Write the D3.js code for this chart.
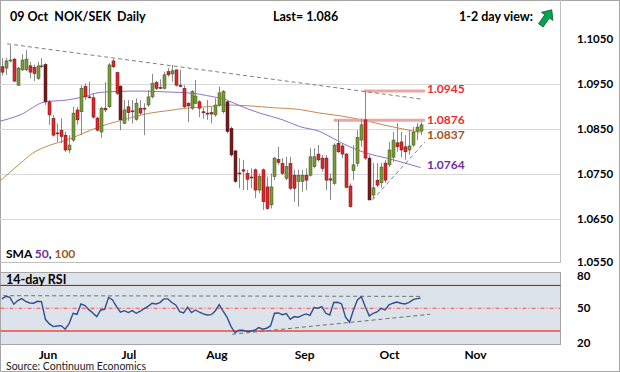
<!DOCTYPE html>
<html>
<head>
<meta charset="utf-8">
<script src="https://cdn.jsdelivr.net/npm/d3@7"></script>
<style>
  body { margin: 0; background: #fff; }
  svg { display: block; }
  text { font-family: Lato, "Open Sans", sans-serif; }
</style>
</head>
<body>
<svg id="chart"></svg>
<script>
// daily candles, mid-May .. 09 Oct
const opens = [1.0989,1.0986,1.1002,1.1006,1.0948,1.0982,1.0982,1.0991,1.0988,1.0963,1.0990,1.0994,1.0911,1.0874,1.0842,1.0848,1.0837,1.0804,1.0826,1.0893,
  1.0889,1.0945,1.0922,1.0920,1.0875,1.0844,1.0897,1.0900,1.1002,1.0976,1.0946,1.0863,1.0900,1.0891,1.0872,1.0897,1.0897,1.0904,1.0922,1.0954,
  1.0943,1.0941,1.0978,1.0973,1.0982,1.0948,1.0941,1.0908,1.0897,1.0908,1.0911,1.0889,1.0886,1.0887,1.0882,1.0904,1.0889,1.0911,1.0852,1.0802,
  1.0753,1.0760,1.0752,1.0744,1.0760,1.0715,1.0760,1.0722,1.0682,1.0745,1.0783,1.0774,1.0741,1.0774,1.0748,1.0734,1.0734,1.0748,1.0748,1.0767,
  1.0795,1.0786,1.0786,1.0740,1.0730,1.0819,1.0813,1.0795,1.0724,1.0758,1.0774,1.0826,1.0871,1.0786,1.0704,1.0737,1.0731,1.0775,1.0771,1.0788,
  1.0820,1.0822,1.0811,1.0804,1.0815,1.0846,1.0846];
const highs = [1.1008,1.1009,1.1037,1.1009,1.0989,1.1017,1.1026,1.1000,1.0994,1.1000,1.1008,1.0997,1.0915,1.0882,1.0863,1.0874,1.0845,1.0837,1.0900,1.0900,
  1.0948,1.0952,1.0956,1.0930,1.0878,1.0900,1.0955,1.0997,1.1006,1.0978,1.0948,1.0915,1.0915,1.0915,1.0919,1.0915,1.0908,1.0937,1.0973,1.0958,
  1.0961,1.0978,1.0986,1.0993,1.0983,1.0982,1.0948,1.0910,1.0937,1.0960,1.0915,1.0897,1.0915,1.0900,1.0919,1.0945,1.0937,1.0915,1.0856,1.0804,
  1.0786,1.0782,1.0760,1.0763,1.0763,1.0752,1.0763,1.0745,1.0752,1.0789,1.0811,1.0786,1.0789,1.0789,1.0760,1.0760,1.0760,1.0763,1.0808,1.0808,
  1.0815,1.0793,1.0793,1.0752,1.0819,1.0871,1.0819,1.0797,1.0730,1.0815,1.0848,1.0874,1.0935,1.0793,1.0775,1.0775,1.0775,1.0782,1.0822,1.0844,
  1.0864,1.0844,1.0837,1.0848,1.0855,1.0864,1.0866];
const lows = [1.0969,1.0971,1.0999,1.0956,1.0947,1.0980,1.0979,1.0963,1.0957,1.0960,1.0986,1.0904,1.0860,1.0834,1.0822,1.0819,1.0800,1.0797,1.0822,1.0860,
  1.0837,1.0915,1.0919,1.0874,1.0845,1.0831,1.0888,1.0897,1.0986,1.0926,1.0848,1.0862,1.0869,1.0863,1.0869,1.0882,1.0837,1.0900,1.0919,1.0937,
  1.0939,1.0939,1.0967,1.0956,1.0945,1.0943,1.0897,1.0866,1.0893,1.0906,1.0877,1.0874,1.0871,1.0863,1.0878,1.0900,1.0885,1.0841,1.0789,1.0731,
  1.0719,1.0715,1.0715,1.0719,1.0697,1.0708,1.0671,1.0671,1.0674,1.0737,1.0771,1.0748,1.0737,1.0715,1.0689,1.0678,1.0711,1.0715,1.0745,1.0763,
  1.0778,1.0756,1.0715,1.0693,1.0726,1.0797,1.0786,1.0719,1.0676,1.0737,1.0767,1.0811,1.0782,1.0692,1.0697,1.0722,1.0720,1.0731,1.0766,1.0777,
  1.0800,1.0788,1.0782,1.0793,1.0811,1.0826,1.0837];
const closes = [1.0977,1.1002,1.1004,1.0957,1.0986,1.1004,1.1006,1.0977,1.0974,1.0991,1.0991,1.0911,1.0882,1.0837,1.0840,1.0834,1.0804,1.0815,1.0886,1.0871,
  1.0941,1.0922,1.0921,1.0877,1.0848,1.0897,1.0893,1.0993,1.0989,1.0930,1.0871,1.0893,1.0887,1.0889,1.0908,1.0886,1.0895,1.0922,1.0952,1.0941,
  1.0942,1.0971,1.0971,1.0980,1.0948,1.0945,1.0900,1.0902,1.0934,1.0924,1.0897,1.0887,1.0884,1.0884,1.0904,1.0931,1.0934,1.0845,1.0793,1.0734,
  1.0751,1.0757,1.0739,1.0742,1.0715,1.0745,1.0689,1.0674,1.0722,1.0786,1.0776,1.0752,1.0767,1.0719,1.0719,1.0748,1.0748,1.0737,1.0789,1.0789,
  1.0782,1.0763,1.0737,1.0737,1.0815,1.0800,1.0795,1.0721,1.0678,1.0771,1.0832,1.0860,1.0786,1.0693,1.0720,1.0726,1.0766,1.0737,1.0804,1.0826,
  1.0811,1.0804,1.0800,1.0813,1.0844,1.0855,1.0860];

const rsi14 = [58.2,60.5,59.6,53.5,56.7,58.4,56.1,54.6,54.4,56.1,55.8,40.3,36.3,33.9,34.5,34.8,31.6,36.5,45.6,44.7,
  53.8,52.3,48.8,45.9,42.7,48.5,49.1,59.6,57.3,51.4,46.5,47.9,46.2,47.9,45.6,47.4,49.7,51.7,54.4,53.8,
  55.0,58.2,58.2,55.0,52.9,47.1,45.9,50.9,46.2,48.5,46.5,45.0,44.1,44.4,47.6,53.2,47.4,42.1,33.9,28.7,
  30.7,30.7,29.8,30.1,30.7,33.0,31.6,32.5,34.5,45.6,45.9,44.4,45.3,40.3,42.7,42.1,43.8,45.0,43.8,50.6,
  50.0,51.4,45.6,44.1,55.0,55.2,53.8,42.1,37.7,48.5,57.3,60.2,51.4,43.3,45.6,46.8,50.0,48.5,52.9,54.4,
  55.5,54.4,53.8,55.0,57.3,58.4,58.7];

// moving averages, read at these candle numbers
const smaIdx = [-0.5,4.6,10.9,16.4,20.5,24.8,29,35,41.7,48.4,51.8,56.9,60.3,65.3,71.1,75.4,80.5,83.8,88.1,92.3,97.4,100.8,106];
const sma50 = [1.0868,1.0882,1.0911,1.0915,1.0922,1.0932,1.0934,1.0935,1.0933,1.0930,1.0925,1.0915,1.0902,1.0886,1.0871,1.0856,1.0845,1.0830,1.0811,1.0797,1.0786,1.0778,1.0765];
const sma100Idx = [-0.5,4.6,7.8,12.2,16.4,20.5,24.8,29,33.2,37.5,41.7,46.8,51.8,56.9,62.8,68.6,75.4,80.5,85.6,90.6,96.5,100.8,106];
const sma100 = [1.0735,1.0774,1.0797,1.0815,1.0826,1.0841,1.0856,1.0867,1.0877,1.0886,1.0891,1.0897,1.0900,1.0904,1.0902,1.0898,1.0894,1.0886,1.0880,1.0872,1.0860,1.0852,1.0843];

// trend lines [start, end] as [candle, value]
const priceTrends = [[[1.3, 1.1040], [106.3, 1.0917]], [[93.8, 1.0693], [107.1, 1.0822]]];
const rsiTrends = [[[0.3, 61.0], [106.3, 60.4]], [[58.3, 27.2], [108.4, 44.7]]];

const levelValues = [1.0935, 1.0870];
const levelFrom = [91.6, 84];
const levelTo = 107.1;
const tagTexts = ["1.0945", "1.0876", "1.0837", "1.0764"];
const tagValues = [1.0939, 1.0870, 1.0838, 1.0770];

const priceTicks = [1.055, 1.065, 1.075, 1.085, 1.095, 1.105];
const gridTicks = [1.065, 1.075, 1.085, 1.095];
const rsiTicks = [20, 50, 80];
const months = ["Jun", "Jul", "Aug", "Sep", "Oct", "Nov"];
const monthIdx = [11.5, 32, 54.3, 76.5, 98, 119.8];

const darkBodies = [11, 30, 57, 58, 59, 93];

const width = 620, height = 372;
const svg = d3.select("#chart").attr("width", width).attr("height", height);

const x = d3.scaleLinear().domain([-0.5, 141.3]).range([0, 560]);
const y = d3.scaleLinear().domain([1.055, 1.105]).range([264.3, 39.3]);
const yr = d3.scaleLinear().domain([20, 80]).range([342.5, 274]);

// frames
svg.append("rect").attr("x", 0.5).attr("y", 0.5).attr("width", 619).attr("height", 371)
  .attr("fill", "#fff").attr("stroke", "#a6a6a6");
svg.append("line").attr("x1", 560.5).attr("x2", 560.5).attr("y1", 0).attr("y2", 263)
  .attr("stroke", "#bfbfbf");
svg.append("line").attr("x1", 0).attr("x2", 561).attr("y1", 262.5).attr("y2", 262.5)
  .attr("stroke", "#bfbfbf");

// grid
svg.append("g").selectAll("line").data(gridTicks).enter().append("line")
  .attr("x1", 0).attr("x2", 560)
  .attr("y1", d => Math.round(y(d)) + 0.5).attr("y2", d => Math.round(y(d)) + 0.5)
  .attr("stroke", "#d9d9d9");

// right price axis
const yAxis = svg.append("g").attr("transform", "translate(563,0)")
  .call(d3.axisRight(y).tickValues(priceTicks).tickFormat(d3.format(".4f")).tickSize(0).tickPadding(14));
yAxis.select(".domain").remove();
yAxis.selectAll("text").attr("font-family", "Lato, sans-serif").attr("font-size", 11.5)
  .attr("font-weight", "bold").attr("fill", "#000");
yAxis.selectAll(".tick").filter(d => d === 1.055).select("text").attr("dy", "0.1em");

// title
const title = svg.append("g").attr("font-weight", "bold").attr("font-size", 12.5).attr("fill", "#000");
title.append("text").attr("x", 10).attr("y", 21).style("white-space", "pre").text("09 Oct  NOK/SEK  Daily");
title.append("text").attr("x", 273).attr("y", 21).text("Last= 1.086");
title.append("text").attr("x", 459).attr("y", 21).text("1-2 day view:");
svg.append("path")
  .attr("d", "M0,-10 L7,-2 L2.8,-2 L2.8,9 L-2.8,9 L-2.8,-2 L-7,-2 Z")
  .attr("transform", "translate(546,18) rotate(35)")
  .attr("fill", "#00a651").attr("stroke", "#1d5e2c").attr("stroke-width", 0.8);

// moving averages
const smaLine = (idx) => d3.line().x((d, i) => x(idx[i])).y(d => y(d)).curve(d3.curveMonotoneX);
svg.append("path").datum(sma100).attr("d", smaLine(sma100Idx))
  .attr("fill", "none").attr("stroke", "#c58a52").attr("stroke-width", 1);
svg.append("path").datum(sma50).attr("d", smaLine(smaIdx))
  .attr("fill", "none").attr("stroke", "#9370c4").attr("stroke-width", 1);

// resistance levels
svg.append("g").selectAll("line").data(levelValues).enter().append("line")
  .attr("x1", (d, i) => x(levelFrom[i])).attr("x2", x(levelTo))
  .attr("y1", d => y(d)).attr("y2", d => y(d))
  .attr("stroke", "#eda5a5").attr("stroke-width", 3);

// trend lines
svg.append("g").selectAll("line").data(priceTrends).enter().append("line")
  .attr("x1", d => x(d[0][0])).attr("y1", d => y(d[0][1]))
  .attr("x2", d => x(d[1][0])).attr("y2", d => y(d[1][1]))
  .attr("stroke", "#7f7f7f").attr("stroke-width", 1).attr("stroke-dasharray", "4,3");

// candles
const idx = d3.range(opens.length);
const candles = svg.append("g");
candles.selectAll("line").data(idx).enter().append("line")
  .attr("x1", i => Math.round(x(i)) + 0.5).attr("x2", i => Math.round(x(i)) + 0.5)
  .attr("y1", i => y(highs[i])).attr("y2", i => y(lows[i]))
  .attr("stroke", "#8a8a8a").attr("stroke-width", 1);
candles.selectAll("rect").data(idx).enter().append("rect")
  .attr("x", i => Math.round(x(i)) - 1)
  .attr("width", 3)
  .attr("y", i => y(Math.max(opens[i], closes[i])))
  .attr("height", i => Math.max(1, Math.abs(y(opens[i]) - y(closes[i]))))
  .attr("fill", i => closes[i] >= opens[i] ? "#7a9a3a" : (darkBodies.includes(i) ? "#6e1c1c" : "#e3262b"))
  .attr("stroke", i => closes[i] >= opens[i] ? "#3d4d1c" : "#5a1414")
  .attr("stroke-width", 0.5);

// level tags
const tagColors = ["#ee2b2f", "#ee2b2f", "#a0561c", "#7030a0"];
svg.append("g").selectAll("text").data(tagValues).enter().append("text")
  .attr("x", 427).attr("y", d => y(d) + 4)
  .attr("font-size", 12).attr("font-weight", "bold")
  .attr("fill", (d, i) => tagColors[i])
  .text((d, i) => tagTexts[i]);

// SMA legend
const leg = svg.append("text").attr("x", 6).attr("y", 258).attr("font-size", 12).attr("font-weight", "bold");
leg.append("tspan").attr("fill", "#000").text("SMA ");
leg.append("tspan").attr("fill", "#7030a0").text("50");
leg.append("tspan").attr("fill", "#000").text(", ");
leg.append("tspan").attr("fill", "#9c5a1c").text("100");

// RSI panel
svg.append("rect").attr("x", 0.5).attr("y", 272.5).attr("width", 560).attr("height", 72)
  .attr("fill", "#dde3ea").attr("stroke", "#a6a6a6");
svg.append("line").attr("x1", 0.5).attr("x2", 560.5).attr("y1", yr(70)).attr("y2", yr(70))
  .attr("stroke", "#c00000").attr("stroke-width", 1);
svg.append("line").attr("x1", 0.5).attr("x2", 560.5).attr("y1", yr(30)).attr("y2", yr(30))
  .attr("stroke", "#f26b6b").attr("stroke-width", 2);
svg.append("line").attr("x1", 0.5).attr("x2", 560.5).attr("y1", yr(50)).attr("y2", yr(50))
  .attr("stroke", "#ff4b4b").attr("stroke-width", 1).attr("stroke-dasharray", "4,2,1,2");
svg.append("g").selectAll("line").data(rsiTrends).enter().append("line")
  .attr("x1", d => x(d[0][0])).attr("y1", d => yr(d[0][1]))
  .attr("x2", d => x(d[1][0])).attr("y2", d => yr(d[1][1]))
  .attr("stroke", "#6f6f6f").attr("stroke-width", 1).attr("stroke-dasharray", "4,3");
svg.append("path").datum(rsi14)
  .attr("d", d3.line().x((d, i) => x(i)).y(d => yr(d)))
  .attr("fill", "none").attr("stroke", "#2f4f8f").attr("stroke-width", 1.4);
svg.append("text").attr("x", 6).attr("y", 284).attr("font-size", 12.5).attr("font-weight", "bold")
  .attr("fill", "#000").text("14-day RSI");

const rAxis = svg.append("g").attr("transform", "translate(563,0)")
  .call(d3.axisRight(yr).tickValues(rsiTicks).tickSize(0).tickPadding(14));
rAxis.select(".domain").remove();
rAxis.selectAll("text").attr("font-family", "Lato, sans-serif").attr("font-size", 11.5)
  .attr("font-weight", "bold").attr("fill", "#000");
rAxis.selectAll(".tick").filter(d => d === 80).select("text").attr("dy", "0.45em");

// months
const xAxis = svg.append("g").attr("transform", "translate(0,346)")
  .call(d3.axisBottom(x).tickValues(monthIdx).tickFormat((d, i) => months[i]).tickSize(0).tickPadding(4));
xAxis.select(".domain").remove();
xAxis.selectAll("text").attr("font-family", "Lato, sans-serif").attr("font-size", 12)
  .attr("font-weight", "bold").attr("fill", "#000");

svg.append("text").attr("x", 6).attr("y", 370).attr("font-family", "'Liberation Sans', Arial, sans-serif")
  .attr("font-size", 10.5).attr("fill", "#222").text("Source: Continuum Economics");
</script>
</body>
</html>
